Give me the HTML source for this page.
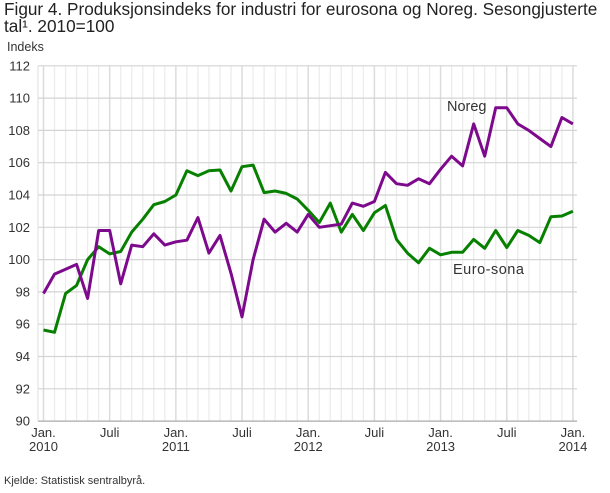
<!DOCTYPE html>
<html><head><meta charset="utf-8"><style>
body{margin:0;background:#fff;width:610px;height:488px;overflow:hidden;font-family:"Liberation Sans",sans-serif;}
</style></head><body>
<svg id="s" width="610" height="488" xmlns="http://www.w3.org/2000/svg" font-family="Liberation Sans, sans-serif">
<text x="4" y="15" font-size="17.2" fill="#222">Figur 4. Produksjonsindeks for industri for eurosona og Noreg. Sesongjusterte</text>
<text x="4" y="32" font-size="17.2" fill="#222">tal¹. 2010=100</text>
<text x="7" y="51" font-size="12.5" fill="#333">Indeks</text>
<g id="grid"></g>
<g id="lab" font-size="13" fill="#333"></g>
<text x="447" y="111" font-size="14.5" fill="#333">Noreg</text>
<text x="453" y="274" font-size="14.5" fill="#333" letter-spacing="0.5">Euro-sona</text>
<text x="4" y="484" font-size="11" fill="#333">Kjelde: Statistisk sentralbyrå.</text>
</svg>
<script>
var NS="http://www.w3.org/2000/svg",s=document.getElementById("s"),g=document.getElementById("grid"),L=document.getElementById("lab");
function el(t,a,p,txt){var e=document.createElementNS(NS,t);for(var k in a)e.setAttribute(k,a[k]);if(txt)e.textContent=txt;(p||s).appendChild(e);return e;}
function X(m){return 43.5+m*11.03;}function Y(v){return 195+(104-v)*16.15;}
for(var m=0;m<=48;m++){var x=X(m);el("line",{x1:x,x2:x,y1:Y(112),y2:Y(90),stroke:m%6==0?"#dcdcdc":"#ececec","stroke-width":m%6==0?1.5:1.3},g);}
for(var v=90;v<=112;v+=2){el("line",{x1:38,x2:577,y1:Y(v),y2:Y(v),stroke:v==90?"#aaa":"#d4d4d4","stroke-width":1.2},g);
el("text",{x:30,y:Y(v)+4.5,"text-anchor":"end"},L,String(v));}
el("line",{x1:38,x2:38,y1:Y(112),y2:Y(90),stroke:"#ddd","stroke-width":1},g);
for(var m=0;m<=48;m+=6){var x=X(m);
if(m%12==0){el("text",{x:x,y:437,"text-anchor":"middle"},L,"Jan.");el("text",{x:x,y:451,"text-anchor":"middle"},L,String(2010+m/12));}
else el("text",{x:x,y:437,"text-anchor":"middle"},L,"Juli");}
var noreg=[97.9,99.1,99.4,99.7,97.6,101.8,101.8,98.5,100.9,100.8,101.6,100.9,101.1,101.2,102.6,100.4,101.5,99.15,96.45,100.0,102.5,101.7,102.25,101.7,102.8,102.0,102.1,102.2,103.5,103.3,103.6,105.4,104.7,104.6,105.0,104.7,105.6,106.4,105.8,108.4,106.4,109.4,109.4,108.4,108.0,107.5,107.0,108.8,108.4];
var euro=[95.64,95.5,97.9,98.4,100.0,100.8,100.35,100.5,101.7,102.5,103.4,103.6,104.0,105.5,105.2,105.5,105.55,104.25,105.75,105.85,104.15,104.25,104.1,103.75,103.05,102.3,103.5,101.7,102.8,101.8,102.9,103.35,101.25,100.4,99.8,100.7,100.3,100.45,100.45,101.25,100.7,101.8,100.75,101.8,101.5,101.05,102.65,102.7,103.0];
function pl(d,c){el("polyline",{points:d.map(function(v,i){return X(i).toFixed(1)+","+Y(v).toFixed(1)}).join(" "),fill:"none",stroke:c,"stroke-width":3,"stroke-linejoin":"round"});}
pl(euro,"#078000");pl(noreg,"#7d0a8c");
</script>
</body></html>
